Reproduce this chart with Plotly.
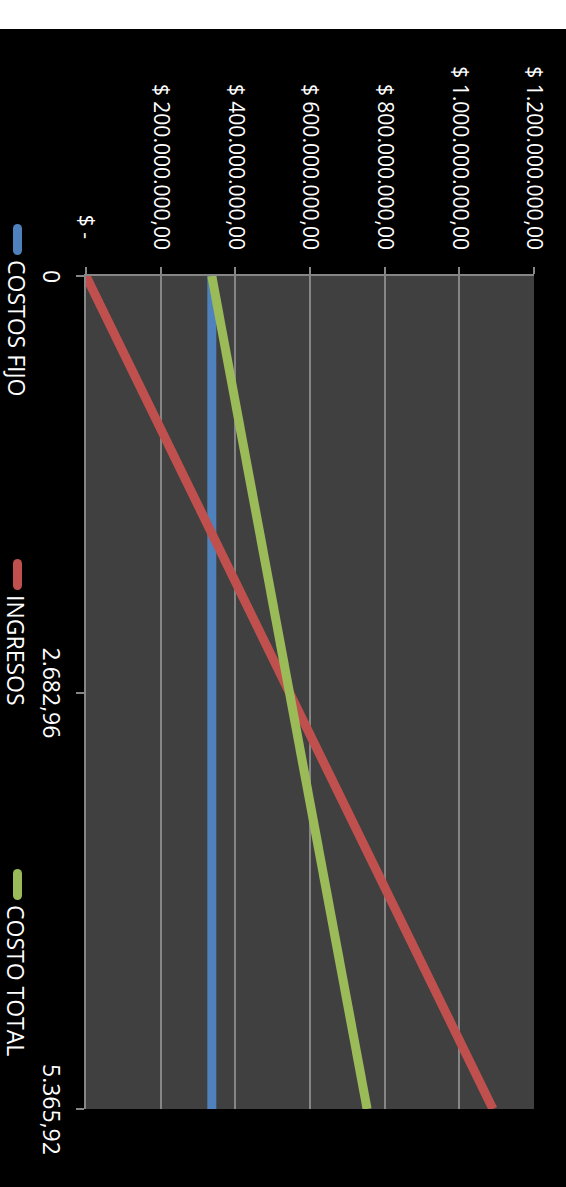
import plotly.graph_objects as go

# ---- data ----
unidades = [0, 2682.96, 5365.92]
unidades_labels = ["0", "2.682,96", "5.365,92"]
costos_fijo = [337e6, 337e6, 337e6]
ingresos = [0, 545e6, 1090e6]
costo_total = [337e6, 545e6, 753e6]
valor_ticks = [0, 200e6, 400e6, 600e6, 800e6, 1000e6, 1200e6]
valor_labels = ["$ -\u00a0\u00a0", "$ 200.000.000,00", "$ 400.000.000,00", "$ 600.000.000,00",
                "$ 800.000.000,00", "$ 1.000.000.000,00", "$ 1.200.000.000,00"]
series_names = ["COSTOS FIJO", "INGRESOS", "COSTO TOTAL"]
series_colors = ["#4F81BD", "#C0504D", "#9BBB59"]

W, H = 566, 1187
L, R, T, B = 86, 534, 276, 1109
FONT = "Open Sans"


def px_x(p):
    return (p - L) / (R - L)


def px_y(p):
    return (B - p) / (B - T)


fig = go.Figure()
for name, vals, col in zip(series_names, [costos_fijo, ingresos, costo_total], series_colors):
    fig.add_trace(go.Scatter(x=vals, y=unidades, mode="lines", name=name,
                             line=dict(color=col, width=9), showlegend=False))

fig.update_layout(
    width=W, height=H,
    margin=dict(l=L, r=W - R, t=T, b=H - B, pad=0),
    paper_bgcolor="black",
    plot_bgcolor="#404040",
    font=dict(family=FONT, color="white", size=21),
    xaxis=dict(range=[0, 1.2e9], side="top", tickvals=valor_ticks, ticktext=valor_labels,
               tickangle=90, showgrid=True, gridcolor="#868686", gridwidth=1.5,
               ticks="outside", ticklen=7, tickcolor="#868686", tickwidth=1.5,
               showline=True, linecolor="#868686", linewidth=1.5,
               zeroline=False, ticklabelstandoff=10,
               tickfont=dict(family=FONT, color="white", size=21)),
    yaxis=dict(range=[unidades[-1], unidades[0]], tickvals=unidades, showticklabels=False,
               showgrid=False, zeroline=False,
               ticks="outside", ticklen=8, tickcolor="#868686", tickwidth=1.5,
               showline=True, linecolor="#868686", linewidth=1.5),
    showlegend=False,
)

shapes = [
    dict(type="rect", xref="paper", yref="paper", x0=px_x(0), x1=px_x(W),
         y0=px_y(0), y1=px_y(29), fillcolor="white", line=dict(width=0), layer="above"),
]
annotations = []
# category tick labels (rotated)
for v, lab in zip(unidades, unidades_labels):
    annotations.append(dict(text=lab, xref="paper", yref="y", x=px_x(52), y=v,
                            xanchor="center", yanchor="middle", textangle=90, showarrow=False,
                            font=dict(family=FONT, color="white", size=23)))

leg_marker = [(224, 255), (559, 590), (869, 900)]
leg_text_top = [258, 593, 903]
for name, col, (m0, m1), ty in zip(series_names, series_colors, leg_marker, leg_text_top):
    shapes.append(dict(type="line", xref="paper", yref="paper", x0=px_x(17.5), x1=px_x(17.5),
                       y0=px_y(m0 + 4), y1=px_y(m1 - 4),
                       line=dict(color=col, width=9)))
    shapes.append(dict(type="circle", xref="paper", yref="paper",
                       x0=px_x(13), x1=px_x(22), y0=px_y(m0), y1=px_y(m0 + 9),
                       fillcolor=col, line=dict(width=0)))
    shapes.append(dict(type="circle", xref="paper", yref="paper",
                       x0=px_x(13), x1=px_x(22), y0=px_y(m1 - 9), y1=px_y(m1),
                       fillcolor=col, line=dict(width=0)))
    annotations.append(dict(text=name, xref="paper", yref="paper", x=px_x(16.5), y=px_y(ty),
                            xanchor="center", yanchor="top", textangle=90, showarrow=False,
                            font=dict(family=FONT, color="white", size=23)))

fig.update_layout(shapes=shapes, annotations=annotations)
fig.write_html("out.html")
